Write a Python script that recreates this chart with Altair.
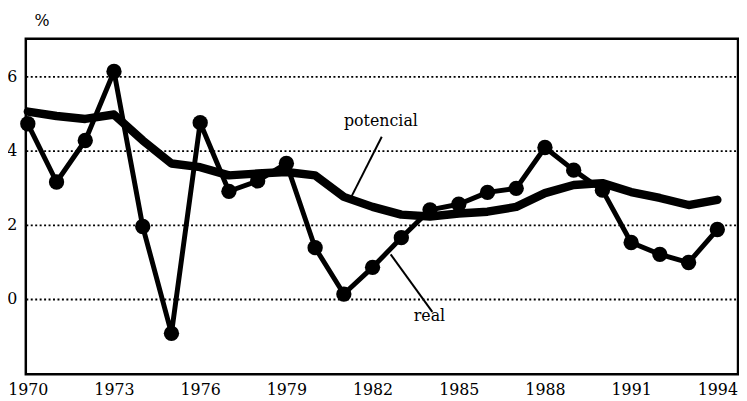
import altair as alt
import pandas as pd

years = list(range(1970, 1995))
real = [4.72, 3.15, 4.27, 6.13, 1.95, -0.93, 4.75, 2.9, 3.18, 3.65, 1.38, 0.13, 0.85,
        1.65, 2.4, 2.55, 2.87, 2.98, 4.08, 3.47, 2.93, 1.52, 1.2, 0.98, 1.87]
potencial = [5.05, 4.93, 4.85, 4.97, 4.27, 3.65, 3.55, 3.33, 3.38, 3.42, 3.33, 2.75, 2.48,
             2.27, 2.22, 2.3, 2.35, 2.48, 2.85, 3.07, 3.12, 2.88, 2.72, 2.53, 2.67]
tick_years = [1970, 1973, 1976, 1979, 1982, 1985, 1988, 1991, 1994]
y_ticks = [0, 2, 4, 6]

labels = ["potencial", "real"]
label_x = [1982.29, 1983.98]
label_y = [4.67, -0.61]
lead_x1 = [1982.32, 1984.08]
lead_y1 = [4.37, -0.35]
lead_x2 = [1981.26, 1982.63]
lead_y2 = [2.75, 1.2]

df = pd.DataFrame({"year": years, "real": real, "potencial": potencial})
ann = pd.DataFrame({"label": labels, "lx": label_x, "ly": label_y,
                    "x1": lead_x1, "y1": lead_y1, "x2": lead_x2, "y2": lead_y2})

FONT = "DejaVu Serif"
xs = alt.Scale(domain=[1969.93, 1994.72], nice=False, zero=False)
ys = alt.Scale(domain=[-2.03, 7.01], nice=False, zero=False)

xaxis = alt.Axis(values=tick_years, format="d", title=None, grid=False, ticks=False,
                 domain=False, labelFont=FONT, labelFontSize=16, labelColor="black",
                 labelPadding=8, labelFlush=False)
yaxis = alt.Axis(values=y_ticks, format="d", title="%", titleAngle=0, titleX=16, titleY=-10,
                 titleAlign="center", titleBaseline="bottom", titleFont=FONT,
                 titleFontSize=16, titleFontWeight="normal", titleColor="black",
                 grid=True, gridColor="black", gridDash=[2, 2.5], gridWidth=1.8,
                 ticks=False, domain=False, labelFont=FONT, labelFontSize=16,
                 labelColor="black", labelPadding=9)

base = alt.Chart(df)

pot_line = base.mark_line(color="black", strokeWidth=8.5, strokeJoin="round", strokeCap="round").encode(
    x=alt.X("year:Q", scale=xs, axis=xaxis),
    y=alt.Y("potencial:Q", scale=ys, axis=yaxis),
)
real_line = base.mark_line(color="black", strokeWidth=5, strokeJoin="round").encode(
    x=alt.X("year:Q", scale=xs),
    y=alt.Y("real:Q", scale=ys),
)
real_pts = base.mark_circle(color="black", size=240, opacity=1).encode(
    x=alt.X("year:Q", scale=xs),
    y=alt.Y("real:Q", scale=ys),
)

leaders = alt.Chart(ann).mark_rule(color="black", strokeWidth=2).encode(
    x=alt.X("x1:Q", scale=xs), y=alt.Y("y1:Q", scale=ys),
    x2="x2:Q", y2="y2:Q",
)
texts = alt.Chart(ann).mark_text(font=FONT, fontSize=16, color="black",
                                 align="center", baseline="alphabetic").encode(
    x=alt.X("lx:Q", scale=xs), y=alt.Y("ly:Q", scale=ys), text="label:N",
)

chart = alt.layer(pot_line, real_line, real_pts, leaders, texts).properties(
    width=720, height=339,
    autosize=alt.AutoSizeParams(type="none"),
    padding={"left": 18, "top": 29, "right": 1, "bottom": 30},
    background="white",
).configure_view(stroke="black", strokeWidth=2.5)

chart.save("out.html", embed_options={"renderer": "svg", "actions": False})
